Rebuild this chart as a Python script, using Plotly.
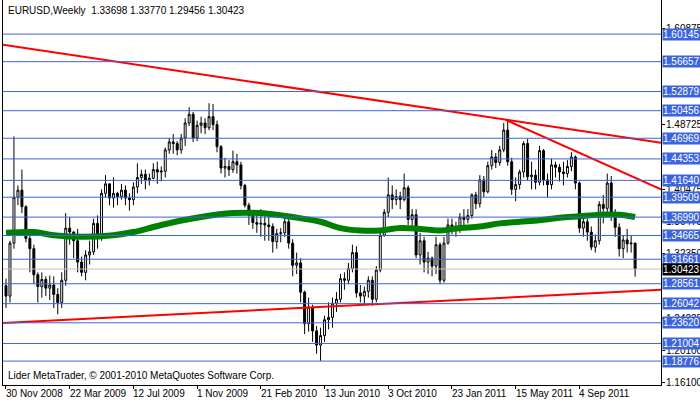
import plotly.graph_objects as go

closes = [1.270,1.337,1.395,1.404,1.383,1.343,1.330,1.297,1.282,1.291,
1.280,1.284,1.272,1.262,1.290,1.356,1.351,1.340,1.313,1.300,
1.322,1.326,1.362,1.347,1.400,1.412,1.394,1.400,1.396,1.404,
1.394,1.392,1.408,1.420,1.424,1.417,1.419,1.430,1.427,1.428,
1.455,1.465,1.463,1.455,1.470,1.489,1.500,1.470,1.486,1.489,
1.483,1.497,1.487,1.459,1.432,1.434,1.430,1.440,1.436,1.410,
1.385,1.372,1.363,1.361,1.362,1.360,1.358,1.339,1.349,1.350,
1.364,1.337,1.309,1.312,1.275,1.235,1.256,1.226,1.208,1.220,
1.240,1.243,1.261,1.266,1.292,1.290,1.305,1.325,1.274,1.270,
1.276,1.290,1.266,1.303,1.347,1.376,1.398,1.392,1.396,1.392,
1.407,1.367,1.373,1.322,1.340,1.313,1.318,1.308,1.335,1.290,
1.337,1.360,1.357,1.358,1.370,1.367,1.372,1.398,1.387,1.417,
1.402,1.435,1.446,1.439,1.455,1.480,1.440,1.405,1.411,1.427,
1.463,1.421,1.423,1.414,1.454,1.417,1.411,1.436,1.433,1.427,
1.425,1.434,1.446,1.413,1.356,1.364,1.351,1.332,1.340,1.386,
1.381,1.413,1.375,1.357,1.330,1.341,1.336,1.33698,1.30423]
first_open = 1.283
highs = [1.292,1.340,1.472,1.410,1.430,1.385,1.350,1.335,1.300,1.300,
1.295,1.296,1.295,1.280,1.300,1.375,1.370,1.352,1.355,1.320,
1.328,1.340,1.368,1.372,1.405,1.423,1.412,1.420,1.402,1.412,
1.410,1.400,1.414,1.438,1.430,1.430,1.425,1.438,1.440,1.434,
1.458,1.470,1.475,1.466,1.475,1.495,1.509,1.503,1.492,1.497,
1.495,1.514,1.513,1.492,1.461,1.445,1.442,1.454,1.450,1.440,
1.412,1.388,1.376,1.372,1.380,1.372,1.372,1.362,1.355,1.356,
1.372,1.368,1.342,1.325,1.318,1.277,1.268,1.259,1.232,1.230,
1.245,1.262,1.268,1.275,1.298,1.300,1.312,1.335,1.333,1.284,
1.282,1.295,1.295,1.308,1.350,1.380,1.420,1.410,1.405,1.402,
1.425,1.410,1.380,1.380,1.350,1.345,1.326,1.320,1.345,1.338,
1.345,1.368,1.368,1.364,1.375,1.380,1.380,1.400,1.402,1.423,
1.422,1.440,1.455,1.451,1.460,1.489,1.494,1.445,1.420,1.430,
1.466,1.469,1.440,1.430,1.460,1.456,1.425,1.444,1.440,1.437,
1.440,1.442,1.452,1.448,1.415,1.372,1.368,1.358,1.348,1.390,
1.398,1.425,1.422,1.380,1.362,1.347,1.355,1.346,1.33770]
lows = [1.255,1.262,1.330,1.385,1.375,1.338,1.300,1.285,1.262,1.268,
1.270,1.265,1.255,1.247,1.255,1.283,1.335,1.318,1.300,1.295,
1.290,1.310,1.322,1.330,1.340,1.395,1.385,1.382,1.385,1.392,
1.385,1.378,1.385,1.400,1.412,1.405,1.410,1.418,1.412,1.415,
1.420,1.450,1.450,1.448,1.450,1.460,1.485,1.465,1.466,1.476,
1.475,1.480,1.480,1.452,1.425,1.420,1.422,1.426,1.425,1.405,
1.382,1.360,1.355,1.350,1.345,1.340,1.340,1.325,1.330,1.338,
1.345,1.330,1.295,1.298,1.262,1.222,1.225,1.212,1.197,1.188,
1.212,1.228,1.230,1.250,1.262,1.278,1.285,1.300,1.268,1.262,
1.260,1.268,1.258,1.262,1.300,1.345,1.370,1.380,1.385,1.380,
1.390,1.360,1.355,1.318,1.310,1.300,1.298,1.295,1.298,1.285,
1.287,1.335,1.348,1.345,1.350,1.358,1.362,1.368,1.380,1.382,
1.395,1.400,1.430,1.432,1.435,1.452,1.435,1.398,1.390,1.405,
1.420,1.416,1.405,1.405,1.410,1.410,1.395,1.405,1.420,1.415,
1.410,1.420,1.428,1.405,1.350,1.345,1.340,1.328,1.325,1.335,
1.362,1.370,1.365,1.345,1.320,1.318,1.325,1.325,1.29456]
opens = [first_open] + closes[:-1]

ma_idx = [0,7,12,19,27,32,39,49,57,64,72,79,84,89,94,99,104,109,114,119,124,129,134,139,144,149,154,158]
ma_val = [1.350,1.351,1.347,1.345,1.347,1.351,1.360,1.370,1.375,1.375,1.370,1.364,1.356,1.353,1.353,1.356,1.355,1.353,1.356,1.358,1.362,1.364,1.366,1.369,1.371,1.373,1.373,1.370]

trend_lines = [([-0.75,164.5],[1.588,1.464]),([125.5,164.5],[1.493,1.405]),([-0.75,164.5],[1.236,1.278])]
levels = [1.60145,1.56657,1.52879,1.50456,1.46969,1.44353,1.41640,1.39509,1.36990,1.34665,1.31661,1.28561,1.26042,1.23620,1.21004,1.18776]
axis_ticks = [1.60875,1.48725,1.40475,1.36475,1.32350,1.24225,1.20100,1.16100]
date_idx = [0,16,32,48,64,80,96,112,128,144]
date_lbl = ["30 Nov 2008","22 Mar 2009","12 Jul 2009","1 Nov 2009","21 Feb 2010","13 Jun 2010","3 Oct 2010","23 Jan 2011","15 May 2011","4 Sep 2011"]
last_price = 1.30423

x = list(range(len(closes)))
fig = go.Figure()
for lv in levels:
    fig.add_shape(type="line", xref="paper", x0=0, x1=1, y0=lv, y1=lv, line=dict(color="#3c64dc", width=1))
fig.add_shape(type="line", xref="paper", x0=0, x1=1, y0=last_price, y1=last_price, line=dict(color="#c0c0c0", width=1))
fig.add_trace(go.Scatter(x=ma_idx, y=ma_val, mode="lines", line=dict(color="#008000", width=6, shape="spline"), hoverinfo="skip"))
fig.add_trace(go.Candlestick(x=x, open=opens, high=highs, low=lows, close=closes,
    increasing=dict(line=dict(color="black", width=1), fillcolor="white"),
    decreasing=dict(line=dict(color="black", width=1), fillcolor="black"),
    whiskerwidth=0))
for xs, ys in trend_lines:
    fig.add_trace(go.Scatter(x=xs, y=ys, mode="lines", line=dict(color="#ff0000", width=2), hoverinfo="skip"))

F = "Liberation Sans"
ann = []
for t in axis_ticks:
    ann.append(dict(xref="paper", x=1.0, y=t, text=f"{t:.5f}", showarrow=False, xanchor="left", yanchor="middle", xshift=3,
                    font=dict(family=F, size=10, color="black")))
for lv in levels:
    ann.append(dict(xref="paper", x=1.0, y=lv, text=f"{lv:.5f}", showarrow=False, xanchor="left", yanchor="middle",
                    bgcolor="#3c64dc", borderpad=0, xshift=1, font=dict(family=F, size=10, color="white")))
ann.append(dict(xref="paper", x=1.0, y=last_price, text=f"{last_price:.5f}", showarrow=False, xanchor="left", yanchor="middle",
                bgcolor="black", borderpad=0, xshift=1, font=dict(family=F, size=10, color="white")))
for i, l in zip(date_idx, date_lbl):
    ann.append(dict(x=i, yref="paper", y=0, text=l, showarrow=False, xanchor="left", yanchor="top", yshift=-1, xshift=-2,
                    font=dict(family=F, size=10, color="black")))
ann.append(dict(xref="paper", yref="paper", x=0, y=1, text="EURUSD,Weekly  1.33698 1.33770 1.29456 1.30423", showarrow=False,
                xanchor="left", yanchor="top", xshift=3, yshift=-3, font=dict(family=F, size=10, color="black")))
ann.append(dict(xref="paper", yref="paper", x=0, y=0, text="Lider MetaTrader, © 2001-2010 MetaQuotes Software Corp.", showarrow=False,
                xanchor="left", yanchor="bottom", xshift=3, yshift=2, font=dict(family=F, size=10, color="black")))

fig.update_layout(width=700, height=402, margin=dict(l=3, r=39, t=0, b=17), paper_bgcolor="white", plot_bgcolor="white",
    showlegend=False, annotations=ann,
    xaxis=dict(range=[-0.75, 164.5], showgrid=False, zeroline=False, rangeslider=dict(visible=False), showline=True, linecolor="black",
               tickvals=date_idx, ticks="outside", ticklen=3, tickcolor="black", showticklabels=False),
    yaxis=dict(range=[1.1575, 1.6446], showgrid=False, zeroline=False, showline=True, linecolor="black", mirror=True,
               tickvals=axis_ticks, ticks="outside", ticklen=3, tickcolor="black", showticklabels=False, side="right"))
fig.write_html("out.html", config={"displayModeBar": False},
               post_script="document.body.style.margin='0';document.body.style.overflow='hidden';")
